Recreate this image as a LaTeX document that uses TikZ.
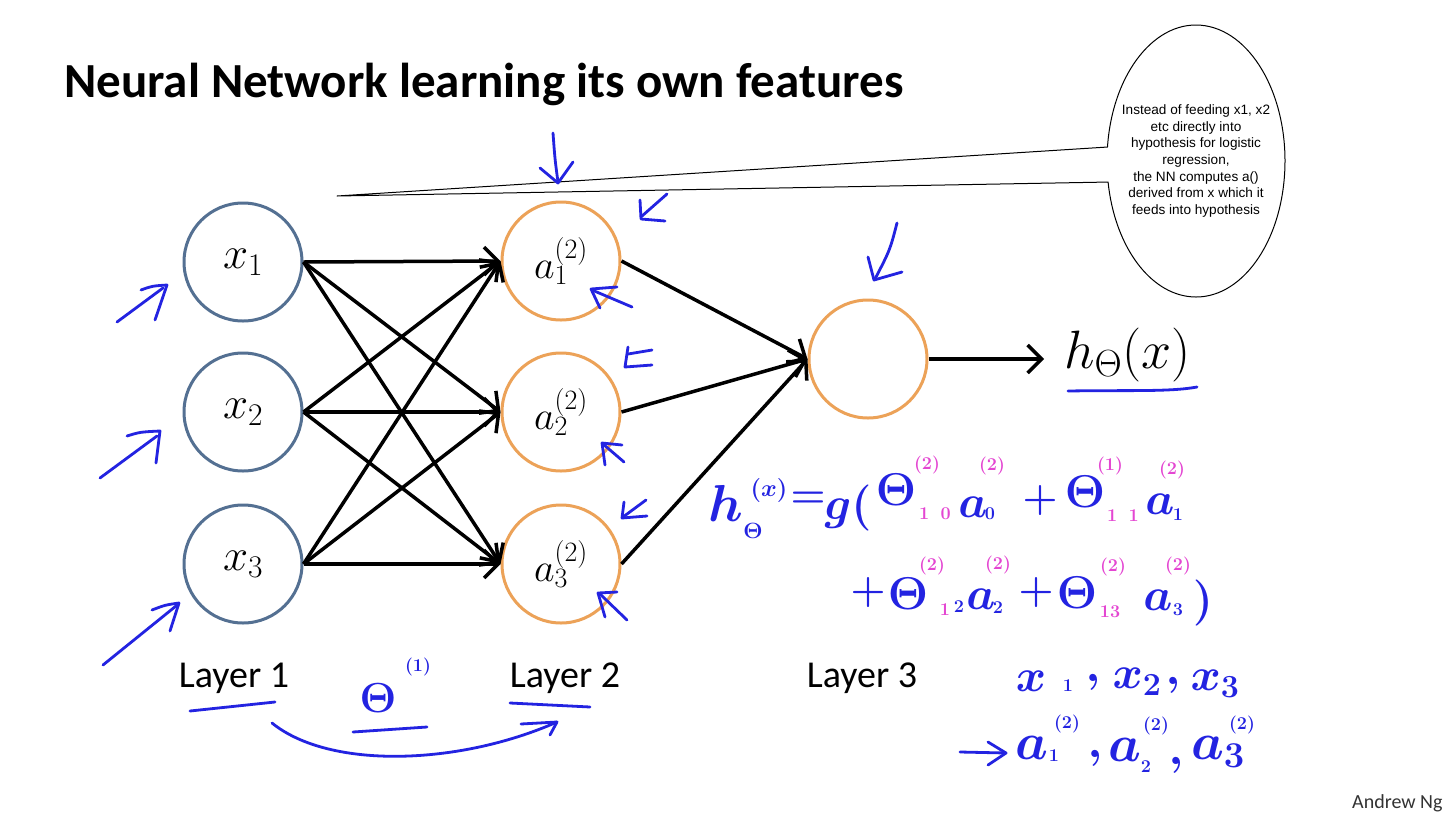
\documentclass[tikz,border=0pt]{standalone}
\usepackage{fix-cm}
\usepackage{fontspec}
\newfontfamily\calibri{Carlito}
\newfontfamily\arial{Liberation Sans}
\usetikzlibrary{arrows.meta,calc}
\definecolor{inblue}{RGB}{84,112,146}
\definecolor{hidor}{RGB}{236,162,88}
\definecolor{pen}{RGB}{35,35,225}
\definecolor{penm}{RGB}{228,70,210}
\begin{document}
\begin{tikzpicture}[x=1pt,y=-1pt,line join=round,
  inode/.style={circle,draw=inblue,line width=3pt,minimum size=118pt,inner sep=0pt,font=\fontsize{45}{45}\selectfont},
  hnode/.style={circle,draw=hidor,line width=3pt,minimum size=118pt,inner sep=0pt,font=\fontsize{40}{40}\selectfont},
  netedge/.style={line width=3.5pt,-{Straight Barb[length=14pt,width=28pt]}},
  penline/.style={draw=pen,line width=2.8pt,line cap=round,line join=round},
  hw/.style={text=pen,inner sep=0pt,font=\boldmath\fontsize{46}{46}\selectfont},
  hwm/.style={text=penm,inner sep=0pt,font=\boldmath\fontsize{18}{18}\selectfont},
  hws/.style={text=pen,inner sep=0pt,font=\boldmath\fontsize{18}{18}\selectfont},
  layerlbl/.style={anchor=base,inner sep=0pt,font=\calibri\fontsize{38}{38}\selectfont}]
\useasboundingbox[fill=white] (0,0) rectangle (1452,812);

% title
\node[anchor=base west,inner sep=0pt,font=\calibri\bfseries\fontsize{49}{49}\selectfont] (title) at (64,97) {Neural Network learning its own features};

% callout
\coordinate (tip) at (337,196);
\coordinate (ec) at (1196,161);
\draw[line width=1pt,fill=white] (tip) -- ($(ec)+(185.9:89 and 136)$) arc[start angle=185.9,end angle=531.1,x radius=89,y radius=136] -- cycle;
\node[align=center,inner sep=0pt,font=\arial\fontsize{13.6}{16.7}\selectfont] (ctext) at (1196,161) {Instead of feeding x1, x2\\etc directly into\\hypothesis for logistic\\regression,\\the NN computes a()\\derived from x which it\\feeds into hypothesis};

% network nodes
\node[inode] (x1) at (243,262) {$x_1$};
\node[inode] (x2) at (243,412) {$x_2$};
\node[inode] (x3) at (243,564) {$x_3$};
\node[hnode] (a1) at (561,261) {$a^{(2)}_1$};
\node[hnode] (a2) at (561,412) {$a^{(2)}_2$};
\node[hnode] (a3) at (561,564) {$a^{(2)}_3$};
\node[hnode] (o) at (868,359) {};
\node[anchor=base west,inner sep=0pt,font=\fontsize{54}{54}\selectfont] (h) at (1064,368) {$h_\Theta(x)$};

\foreach \i in {1,2,3}{\foreach \j in {1,2,3}{\draw[netedge] (x\i.east) -- (a\j.west);}}
\foreach \j in {1,2,3}{\draw[netedge] (a\j.east) -- (o.west);}
\draw[netedge,shorten >=20pt] (o.east) -- (o.east -| h.west);

% layer labels
\node[layerlbl] (L1) at (234,687) {Layer 1};
\node[layerlbl] (L2) at (565,687) {Layer 2};
\node[layerlbl] (L3) at (862,687) {Layer 3};
\node[anchor=base west,inner sep=0pt,text=black!80,font=\calibri\fontsize{20}{20}\selectfont] (ng) at (1352,808) {Andrew Ng};

% handwritten arrows at inputs
\draw[penline] (117,322) -- (163,288);
\draw[penline] (141,290) .. controls (152,286) .. (167,285) -- (155,320);
\draw[penline] (100,478) -- (157,436);
\draw[penline] (127,436) .. controls (140,432) .. (160,431) -- (156,463);
\draw[penline] (103,665) -- (176,606);
\draw[penline] (152,610) .. controls (165,605) .. (179,603) -- (170,631);

% handwritten arrows at layer 2
\draw[penline] (553,133) .. controls (555,160) .. (558,182);
\draw[penline] (540,168) -- (558,183) -- (573,162);
\draw[penline] (667,194) -- (642,216);
\draw[penline] (640,200) -- (641,219) -- (665,221);
\draw[penline] (592,290) -- (632,307);
\draw[penline] (617,287) -- (591,289) -- (600,308);
\draw[penline] (652,350) -- (628,354);
\draw[penline] (628,347) -- (625,367) -- (652,365);
\draw[penline] (603,444) -- (624,462);
\draw[penline] (622,445) -- (602,443) -- (605,465);
\draw[penline] (646,500) -- (623,517);
\draw[penline] (624,502) -- (622,518) -- (647,516);
\draw[penline] (600,594) -- (627,620);
\draw[penline] (617,592) -- (598,593) -- (605,617);
\draw[penline] (897,223) .. controls (890,250) .. (875,279);
\draw[penline] (868,257) -- (874,280) -- (902,272);

% underline of output
\draw[penline] (1068,391) .. controls (1130,390) and (1170,392) .. (1197,387);

% layer annotations
\draw[penline] (190,711) -- (275,702);
\draw[penline] (510,703) -- (590,707);
\node[hw,font=\boldmath\fontsize{42}{42}\selectfont] (th1) at (378,698) {$\Theta$};
\node[hws] (th1s) at (418,667) {$(1)$};
\draw[penline] (353,732) -- (427,727);
\coordinate (ca) at (272,723);
\coordinate (cb) at (557,722);
\draw[penline] (ca) .. controls (330,770) and (460,765) .. (cb);
\draw[penline] (521,724) -- (cb) -- (550,735);

% equation line 1
\node[hw,font=\boldmath\fontsize{52}{52}\selectfont] (eh) at (726,503) {$h$};
\node[hw,font=\boldmath\fontsize{22}{22}\selectfont] (ehs) at (753,531) {$\Theta$};
\node[hw,font=\boldmath\fontsize{24}{24}\selectfont] (ehx) at (769,490) {$(x)$};
\node[hw,font=\boldmath\fontsize{40}{40}\selectfont] (eeq) at (808,500) {$=$};
\node[hw] (eg) at (848,508) {$g($};
\node[hw] (et1) at (896,490) {$\Theta$};
\node[hwm] (et1u) at (927,465) {$(2)$};
\node[hwm] (et1d) at (935,514) {$1\;\;0$};
\node[hw] (ea0) at (973,507) {$a$};
\node[hws] (ea0d) at (990,514) {$0$};
\node[hwm] (ea0u) at (992,466) {$(2)$};
\node[hw,font=\boldmath\fontsize{40}{40}\selectfont] (ep1) at (1040,500) {$+$};
\node[hw] (et2) at (1085,492) {$\Theta$};
\node[hwm] (et2u) at (1110,466) {$(1)$};
\node[hwm] (et2d) at (1123,516) {$1\;\;1$};
\node[hw] (ea1) at (1160,504) {$a$};
\node[hws] (ea1d) at (1178,515) {$1$};
\node[hwm] (ea1u) at (1172,470) {$(2)$};

% equation line 2
\node[hw,font=\boldmath\fontsize{40}{40}\selectfont] (ep2) at (868,592) {$+$};
\node[hw] (et3) at (908,594) {$\Theta$};
\node[hwm] (et3u) at (932,566) {$(2)$};
\node[hwm] (et3d) at (945,610) {$1$};
\node[hws] (et3e) at (959,607) {$2$};
\node[hw] (ea2) at (981,599) {$a$};
\node[hws] (ea2d) at (998,608) {$2$};
\node[hwm] (ea2u) at (998,565) {$(2)$};
\node[hw,font=\boldmath\fontsize{40}{40}\selectfont] (ep3) at (1036,592) {$+$};
\node[hw] (et4) at (1077,593) {$\Theta$};
\node[hwm] (et4u) at (1113,567) {$(2)$};
\node[hwm] (et4d) at (1110,612) {$13$};
\node[hw] (ea3) at (1158,600) {$a$};
\node[hws] (ea3d) at (1178,610) {$3$};
\node[hwm] (ea3u) at (1178,566) {$(2)$};
\node[hw] (ecl) at (1203,603) {$)$};

% x1, x2, x3 -> a1, a2, a3
\node[hw] (bx1) at (1031,681) {$x$};
\node[hws] (bx1d) at (1068,686) {$1$};
\node[hw] (bc1) at (1093,682) {$,$};
\node[hw] (bx2) at (1137,682) {$x_2$};
\node[hw] (bc2) at (1173,685) {$,$};
\node[hw] (bx3) at (1215,684) {$x_3$};
\coordinate (ar1) at (960,752);
\coordinate (ar2) at (1006,753);
\draw[penline] (ar1) -- (ar2);
\draw[penline] (988,742) -- (ar2) -- (988,765);
\node[hw,font=\boldmath\fontsize{52}{52}\selectfont] (ba1) at (1032,748) {$a$};
\node[hws] (ba1d) at (1054,756) {$1$};
\node[hws] (ba1u) at (1067,724) {$(2)$};
\node[hw] (bc3) at (1095,758) {$,$};
\node[hw,font=\boldmath\fontsize{52}{52}\selectfont] (ba2) at (1125,750) {$a$};
\node[hws] (ba2d) at (1146,767) {$2$};
\node[hws] (ba2u) at (1156,726) {$(2)$};
\node[hw] (bc4) at (1176,765) {$,$};
\node[hw,font=\boldmath\fontsize{52}{52}\selectfont] (ba3) at (1218,752) {$a_3$};
\node[hws] (ba3u) at (1242,725) {$(2)$};
\end{tikzpicture}
\end{document}
